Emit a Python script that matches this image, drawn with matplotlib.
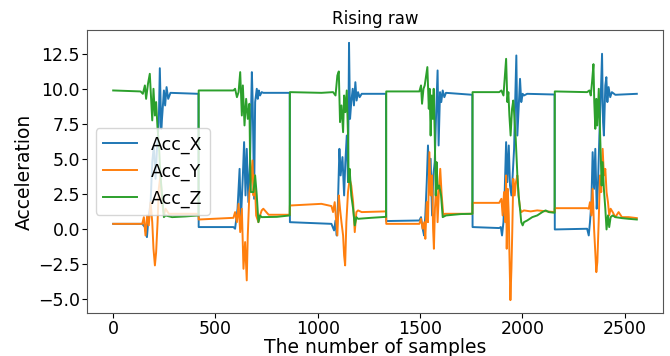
import matplotlib
matplotlib.use("Agg")
import matplotlib.pyplot as plt

# ---- data (sample index, acceleration) ----
acc_x_samples = [0, 142, 155, 165, 171, 183, 191, 199, 207, 215, 223, 228, 235, 241, 248, 254, 261, 269, 280, 417, 418,
                 588, 596, 608, 618, 624, 634, 640, 647, 653, 661, 669, 678, 682, 689, 694, 702, 707, 712, 718, 726, 734, 863, 864,
                 1067, 1080, 1087, 1093, 1099, 1106, 1112, 1121, 1129, 1135, 1142, 1148, 1153, 1158, 1164, 1171, 1177, 1184, 1190, 1197, 1205, 1215, 1334, 1335,
                 1497, 1505, 1513, 1520, 1526, 1533, 1539, 1546, 1552, 1559, 1565, 1572, 1578, 1586, 1591, 1598, 1604, 1611, 1619, 1627, 1756, 1757,
                 1887, 1895, 1901, 1908, 1914, 1921, 1927, 1934, 1940, 1947, 1953, 1960, 1964, 1971, 1976, 1982, 1989, 1995, 2002, 2008, 2024, 2158, 2159,
                 2317, 2325, 2331, 2338, 2344, 2351, 2357, 2364, 2370, 2377, 2383, 2390, 2395, 2399, 2406, 2411, 2416, 2422, 2430, 2438, 2455, 2560]
acc_x_values = [0.40, 0.40, 0.17, -0.55, 0.52, 1.95, 4.81, 6.00, 3.62, 6.00, 7.67, 11.52, 7.19, 8.38, 9.93, 8.86, 10.17, 9.33, 9.76, 9.69, 0.17,
                0.17, 0.05, 1.48, 4.33, 0.52, 3.86, 6.24, 2.43, 5.76, 1.95, 4.81, 11.24, 9.10, 2.19, 9.10, 10.05, 9.33, 9.93, 9.57, 9.81, 9.76, 9.76, 0.52,
                0.40, -0.07, 0.64, -0.43, 1.95, 5.76, 3.86, 5.17, 2.43, 4.81, 6.71, 3.38, 13.33, 7.90, 9.10, 10.05, 8.86, 10.52, 9.21, 9.81, 9.45, 9.69, 9.69, 0.60,
                0.64, 0.88, 0.05, -0.43, 1.00, 3.38, 6.00, 2.90, 5.05, 1.00, 3.86, 4.81, 7.90, 11.36, 6.00, 9.81, 9.10, 9.93, 9.45, 9.76, 9.62, 0.17,
                0.10, 0.17, -0.43, 0.52, 2.67, 6.24, 3.38, 6.00, 3.14, 2.43, 3.86, 5.76, 8.38, 12.43, 6.71, 8.62, 10.76, 9.10, 9.69, 9.57, 9.69, 9.64, 0.00,
                0.05, -0.43, 0.52, 1.95, 5.52, 2.90, 5.76, 1.48, 3.14, 6.71, 9.10, 12.55, 7.67, 6.71, 10.29, 10.88, 9.10, 10.17, 9.45, 9.81, 9.62, 9.69]

acc_y_samples = [0, 142, 150, 158, 166, 174, 183, 191, 197, 204, 210, 217, 223, 231, 239, 248, 256, 272, 417, 418,
                 588, 596, 605, 613, 621, 629, 637, 645, 653, 658, 666, 673, 681, 686, 691, 699, 710, 718, 726, 734, 760, 863, 864,
                 1018, 1067, 1075, 1083, 1091, 1096, 1103, 1109, 1116, 1124, 1129, 1134, 1140, 1148, 1156, 1164, 1173, 1181, 1189, 1197, 1215, 1334, 1335,
                 1497, 1505, 1513, 1521, 1526, 1533, 1539, 1546, 1552, 1559, 1564, 1568, 1573, 1580, 1586, 1593, 1599, 1606, 1614, 1622, 1756, 1757,
                 1887, 1898, 1904, 1911, 1917, 1921, 1924, 1929, 1934, 1937, 1942, 1947, 1951, 1956, 1963, 1969, 1976, 1982, 1989, 1995, 2008, 2041, 2073, 2122, 2158, 2159,
                 2317, 2325, 2331, 2338, 2344, 2351, 2357, 2362, 2367, 2374, 2380, 2386, 2393, 2399, 2406, 2412, 2419, 2425, 2432, 2442, 2455, 2471, 2487, 2520, 2560]
acc_y_values = [0.40, 0.40, 0.88, -0.43, 1.00, 0.29, 1.95, 0.52, -1.38, -2.57, -1.62, 0.52, 2.90, 3.86, 1.95, 1.00, 1.48, 1.12, 1.12, 0.71,
                0.83, 1.24, 0.52, 1.83, -0.19, 1.48, -2.81, -0.90, -3.64, -0.43, 2.67, 3.38, 4.93, 2.43, 3.86, 1.00, 0.52, 1.00, 1.36, 1.48, 1.05, 1.05, 1.71,
                1.83, 1.67, 1.24, 1.95, 0.52, -0.43, 2.43, 1.48, 0.52, -0.43, -1.86, -2.57, 0.52, 2.67, 3.62, 3.14, 1.95, -0.19, 1.24, 1.36, 1.24, 1.29, 0.40,
                0.40, 0.76, 0.05, 0.52, -0.67, 1.95, 0.52, 5.52, 2.43, 3.86, 0.05, -1.38, 1.48, 3.38, 0.52, 2.90, 4.33, 2.43, 1.00, 1.12, 1.12, 1.90,
                1.90, 2.19, 1.00, 2.67, 0.52, 3.86, -1.38, 2.90, 1.00, -1.62, -5.05, -2.81, -0.19, 3.62, 2.43, 3.38, 3.86, 2.43, 1.48, 1.24, 1.36, 1.29, 1.36, 1.29, 1.24, 1.52,
                1.52, 1.48, 1.95, 1.00, 2.90, 0.05, -1.62, -3.05, -2.33, 0.76, 3.86, 2.67, 5.76, 3.86, 4.33, 2.67, 1.95, 1.00, 1.48, 1.24, 0.88, 1.24, 0.88, 0.88, 0.81]

acc_z_samples = [0, 134, 145, 155, 161, 170, 179, 186, 191, 197, 204, 210, 217, 223, 231, 239, 248, 256, 288, 353, 417, 418,
                 588, 596, 605, 613, 621, 629, 634, 642, 650, 658, 666, 669, 673, 686, 694, 702, 710, 718, 726, 800, 863, 864,
                 1018, 1075, 1087, 1096, 1103, 1109, 1116, 1124, 1129, 1135, 1142, 1148, 1151, 1156, 1164, 1173, 1181, 1189, 1197, 1260, 1334, 1335,
                 1497, 1505, 1510, 1517, 1523, 1530, 1536, 1543, 1547, 1552, 1557, 1562, 1567, 1572, 1577, 1581, 1586, 1594, 1603, 1611, 1627, 1700, 1756, 1757,
                 1887, 1898, 1908, 1914, 1921, 1927, 1932, 1937, 1943, 1950, 1956, 1961, 1968, 1973, 1976, 1982, 1989, 1995, 2002, 2008, 2024, 2049, 2073, 2098, 2114, 2130, 2158, 2159,
                 2317, 2328, 2335, 2341, 2348, 2352, 2357, 2362, 2367, 2374, 2378, 2383, 2388, 2393, 2399, 2406, 2412, 2419, 2425, 2432, 2442, 2455, 2487, 2520, 2560]
acc_z_values = [9.93, 9.86, 9.69, 10.29, 9.33, 10.40, 11.12, 9.10, 7.79, 10.05, 8.14, 9.10, 7.19, 6.24, 3.86, 2.43, 0.88, 1.00, 0.88, 0.93, 1.00, 9.93,
                9.93, 10.05, 9.45, 9.81, 11.24, 8.14, 10.29, 7.43, 9.33, 7.90, 8.98, 5.29, 2.67, 2.67, 3.86, 2.43, 0.52, 1.00, 0.88, 0.90, 1.00, 9.81,
                9.76, 9.81, 9.57, 11.00, 11.29, 7.67, 8.86, 6.95, 9.57, 8.38, 9.93, 6.71, 3.38, 4.33, 2.43, 1.48, 0.29, 0.88, 0.76, 0.83, 0.90, 9.86,
                9.86, 10.29, 8.98, 10.05, 10.29, 11.00, 11.60, 8.62, 10.05, 6.71, 9.57, 7.90, 10.05, 6.71, 2.43, 4.81, 2.90, 3.14, 2.43, 0.88, 1.00, 1.10, 1.12, 9.81,
                9.81, 9.93, 9.57, 10.76, 12.19, 9.10, 9.81, 8.14, 6.71, 8.62, 9.21, 8.14, 6.48, 4.81, 3.86, 2.43, 1.48, 0.52, 0.29, 0.52, 0.64, 0.88, 1.00, 1.24, 1.36, 1.24, 1.19, 9.86,
                9.81, 9.93, 9.57, 10.52, 11.81, 9.10, 7.19, 9.33, 7.43, 10.05, 8.14, 6.00, 3.14, 4.81, 2.90, 1.48, 0.00, 1.00, 0.17, 0.88, 1.00, 0.88, 0.81, 0.76, 0.71]

series_names = ["Acc_X", "Acc_Y", "Acc_Z"]
x_ticks = [0, 500, 1000, 1500, 2000, 2500]
y_ticks = [-5.0, -2.5, 0.0, 2.5, 5.0, 7.5, 10.0, 12.5]

fig = plt.figure(figsize=(6.7, 3.56), dpi=100)
ax = fig.add_axes([87 / 670, 1 - 313 / 356, 576 / 670, 283 / 356])

ax.plot(acc_x_samples, acc_x_values, color="#1f77b4", lw=1.4, label=series_names[0])
ax.plot(acc_y_samples, acc_y_values, color="#ff7f0e", lw=1.4, label=series_names[1])
ax.plot(acc_z_samples, acc_z_values, color="#2ca02c", lw=1.4, label=series_names[2])

ax.set_xticks(x_ticks)
ax.set_yticks(y_ticks)
ax.tick_params(labelsize=12.5, pad=1.5)
ax.set_title("Rising raw", fontsize=12, pad=4)
ax.set_xlabel("The number of samples", fontsize=13.5)
ax.xaxis.set_label_coords(0.5, -0.09)
ax.set_ylabel("Acceleration", fontsize=13.5)
ax.yaxis.set_label_coords(-0.092, 0.5)
ax.legend(loc="center left", fontsize=12.5)
for s in ax.spines.values():
    s.set_color("#555555")

fig.savefig("out.png", dpi=100)
